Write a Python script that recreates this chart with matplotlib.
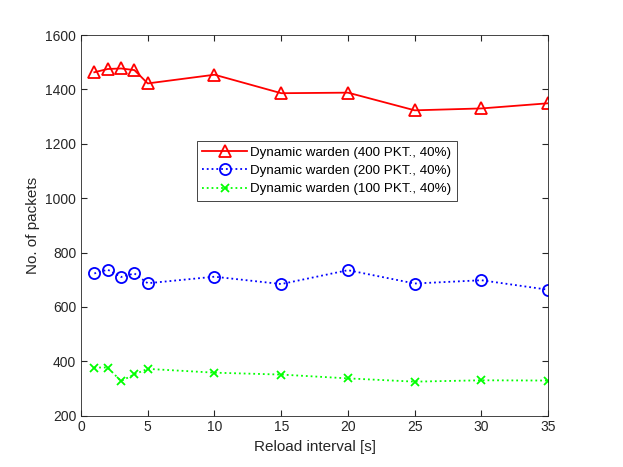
import numpy as np
from matplotlib import pyplot as plt

plt.rcParams['font.family'] = ['Liberation Sans', 'DejaVu Sans']

reload_s = [1, 2, 3, 4, 5, 10, 15, 20, 25, 30, 35]
pkt400 = [1463, 1475, 1477, 1471, 1422, 1454, 1386, 1388, 1323, 1330, 1349]
pkt200 = [723, 737, 710, 723, 687, 711, 684, 735, 686, 698, 663]
pkt100 = [377, 377, 327, 352, 372, 358, 351, 337, 325, 330, 329]

labels = ["Dynamic warden (400 PKT., 40%)",
          "Dynamic warden (200 PKT., 40%)",
          "Dynamic warden (100 PKT., 40%)"]

fig = plt.figure(figsize=(6.23, 4.67), dpi=100)
ax = fig.add_axes([0.13, 0.11, 0.75, 0.815])

ax.plot(reload_s, pkt400, '-', color='red', marker='^', markersize=8,
        markerfacecolor='none', markeredgewidth=1.3, linewidth=1.3, label=labels[0])
ax.plot(reload_s, pkt200, ':', color='blue', marker='o', markersize=8,
        markerfacecolor='none', markeredgewidth=1.3, linewidth=1.3, label=labels[1])
ax.plot(reload_s, pkt100, ':', color='#00ff00', marker='x', markersize=6,
        markeredgewidth=1.3, linewidth=1.3, label=labels[2])

ax.set_xlim(0, 35)
ax.set_ylim(200, 1600)
ax.set_xticks(np.arange(0, 36, 5))
ax.set_yticks(np.arange(200, 1601, 200))
ax.tick_params(direction='in', top=True, right=True, colors='#262626',
               labelsize=10, length=4)
for s in ax.spines.values():
    s.set_color('#262626')
    s.set_linewidth(0.6)

ax.set_xlabel("Reload interval [s]", fontsize=11, color='#262626')
ax.set_ylabel("No. of packets", fontsize=11, color='#262626')

leg = ax.legend(loc='center', bbox_to_anchor=(0.526, 0.643), fontsize=9.6,
                fancybox=False, framealpha=1, edgecolor='#262626',
                handlelength=3.4, borderpad=0.4, labelspacing=0.45,
                handletextpad=0.2, borderaxespad=0)
leg.get_frame().set_linewidth(0.6)

fig.savefig("out.png", dpi=100)
